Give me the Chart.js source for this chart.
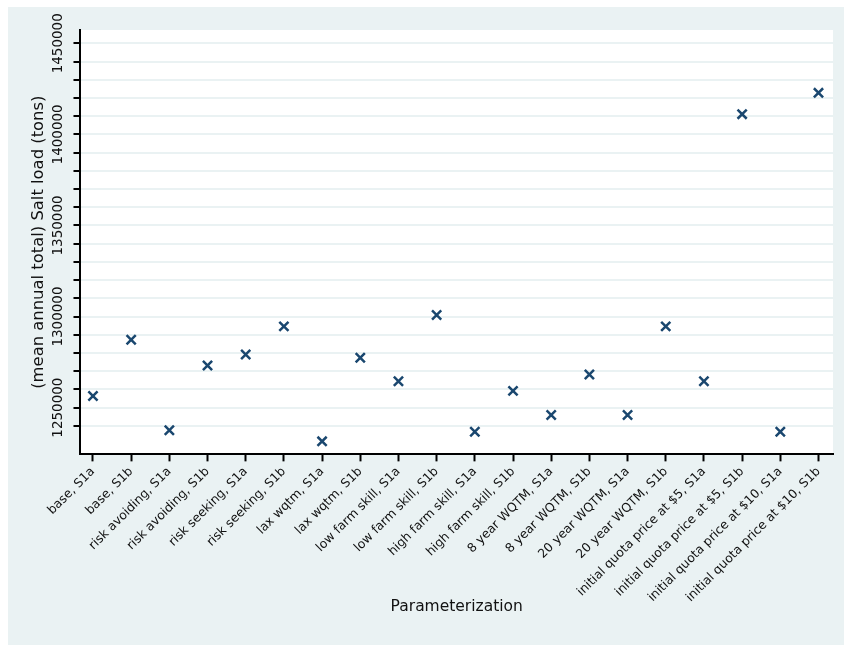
<!DOCTYPE html>
<html>
<head>
<meta charset="utf-8">
<script src="https://cdn.jsdelivr.net/npm/chart.js@4"></script>
<style>
  body { margin: 0; background: #fff; }
  canvas { display: block; }
</style>
</head>
<body>
<canvas id="saltChart" width="844" height="645"></canvas>
<script>
// parameterizations on the x axis, in plot order
let scenarios = ['base, S1a', 'base, S1b', 'risk avoiding, S1a', 'risk avoiding, S1b',
  'risk seeking, S1a', 'risk seeking, S1b', 'lax wqtm, S1a', 'lax wqtm, S1b',
  'low farm skill, S1a', 'low farm skill, S1b', 'high farm skill, S1a', 'high farm skill, S1b',
  '8 year WQTM, S1a', '8 year WQTM, S1b', '20 year WQTM, S1a', '20 year WQTM, S1b',
  'initial quota price at $5, S1a', 'initial quota price at $5, S1b',
  'initial quota price at $10, S1a', 'initial quota price at $10, S1b']

// mean annual total salt load (tons)
let saltLoad = [1256400, 1287300, 1237600, 1273100, 1279200, 1294600, 1231500, 1277400,
  1264500, 1300900, 1236800, 1259200, 1246000, 1268200, 1246000, 1294600,
  1264500, 1411100, 1236800, 1422800]

// y gridlines every 10000, labels every 50000
let yTicks = []
for (let v = 1240000; v <= 1450000; v += 10000) yTicks.push(v)
let yLabelStep = 50000

let points = saltLoad.map((v, i) => ({x: i, y: v}))

const bgColor = '#eaf2f3'
const markColor = '#1a476f'

// stata-ish backdrop: bluish gray frame, white plot region
const backdrop = {
  id: 'backdrop',
  beforeDraw(chart) {
    const c = chart.ctx, a = chart.chartArea
    c.save()
    c.fillStyle = '#fff'
    c.fillRect(0, 0, chart.width, chart.height)
    c.fillStyle = bgColor
    c.fillRect(8, 7, chart.width - 8, chart.height - 7)
    c.fillStyle = '#fff'
    c.fillRect(a.left, a.top, a.right - a.left, a.bottom - a.top)
    c.restore()
  }
}

// vertical y tick labels, only on the major ticks
const yLabels = {
  id: 'yLabels',
  afterDraw(chart) {
    const c = chart.ctx, sc = chart.scales.y
    c.save()
    c.font = '13.5px "DejaVu Sans"'
    c.fillStyle = '#111'
    c.textAlign = 'center'
    c.textBaseline = 'middle'
    sc.ticks.forEach(t => {
      if (t.value % yLabelStep !== 0) return
      c.save()
      c.translate(58, sc.getPixelForValue(t.value))
      c.rotate(-Math.PI / 2)
      c.fillText(String(t.value), 0, 0)
      c.restore()
    })
    c.restore()
  }
}

const ctx = document.getElementById('saltChart')

let saltChart = new Chart(ctx, {
  type: 'scatter',
  data: {
    datasets: [{
      data: points,
      pointStyle: 'crossRot',
      pointRadius: 6.5,
      borderWidth: 2.5,
      borderColor: markColor,
      backgroundColor: markColor
    }]
  },
  options: {
    responsive: false,
    animation: false,
    layout: { padding: { left: 8, right: 11, top: 30, bottom: 24 } },
    plugins: { legend: { display: false }, tooltip: { enabled: false } },
    scales: {
      x: {
        type: 'linear',
        min: -0.327,
        max: 19.38,
        afterBuildTicks: (scale) => { scale.ticks = scenarios.map((s, i) => ({value: i})) },
        ticks: {
          callback: (v) => scenarios[v],
          minRotation: 45,
          maxRotation: 45,
          autoSkip: false,
          padding: 3,
          color: '#111',
          font: { family: 'DejaVu Sans', size: 12.4 }
        },
        grid: { drawOnChartArea: false, drawTicks: true, tickLength: 7, tickColor: '#000', tickWidth: 2 },
        border: { display: true, color: '#000', width: 2 },
        title: {
          display: true,
          text: 'Parameterization',
          color: '#111',
          font: { family: 'DejaVu Sans', size: 15.5 },
          padding: { top: -10, bottom: 4.4 }
        }
      },
      y: {
        min: 1224350,
        max: 1457300,
        afterBuildTicks: (scale) => { scale.ticks = yTicks.map(v => ({value: v})) },
        ticks: { display: false },
        grid: { color: bgColor, lineWidth: 2, drawTicks: true, tickLength: 7, tickColor: '#000', tickWidth: 2 },
        border: { display: true, color: '#000', width: 2 },
        title: {
          display: true,
          text: '(mean annual total) Salt load (tons)',
          color: '#111',
          font: { family: 'DejaVu Sans', size: 16.4 },
          padding: { top: 21.2, bottom: 24.6 }
        }
      }
    }
  },
  plugins: [backdrop, yLabels]
})
</script>
</body>
</html>
